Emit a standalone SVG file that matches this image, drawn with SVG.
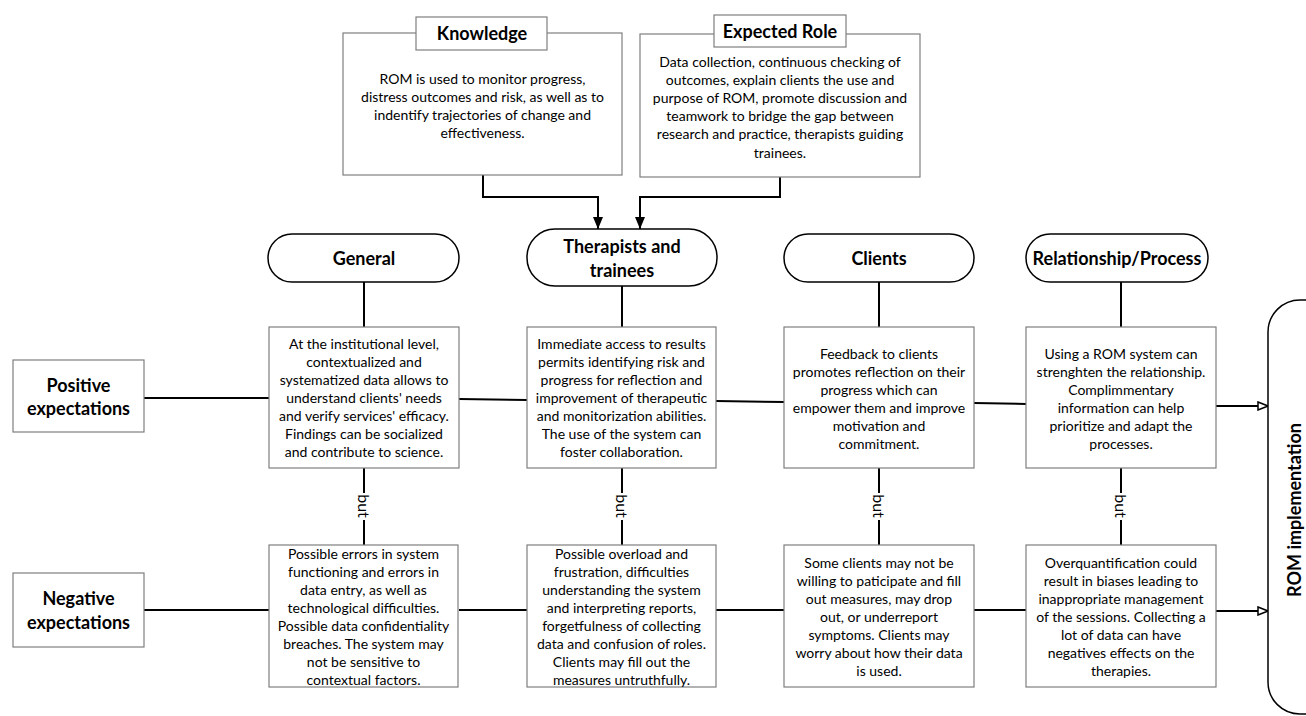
<svg xmlns="http://www.w3.org/2000/svg" width="1306" height="716" viewBox="0 0 1306 716">
<defs>
<style>
.box{fill:#fff;stroke:#7f7f7f;stroke-width:1.2}
.pill{fill:#fff;stroke:#000;stroke-width:1.5}
.t{font-family:Lato,"Liberation Sans",sans-serif;font-size:14px;fill:#000;text-anchor:middle;dominant-baseline:central}
.b{font-family:Lato,"Liberation Sans",sans-serif;font-size:16px;fill:#000;text-anchor:middle;dominant-baseline:central}
.h{font-family:Lato,"Liberation Sans",sans-serif;font-size:18px;font-weight:bold;fill:#000;text-anchor:middle;dominant-baseline:central}
.c{fill:none;stroke:#000;stroke-width:2}
</style>
<marker id="fa" viewBox="0 0 12 10" refX="12" refY="5" markerWidth="12" markerHeight="10" markerUnits="userSpaceOnUse" orient="auto"><path d="M0,0 L12,5 L0,10 Z" fill="#000"/></marker>
<marker id="oa" viewBox="0 0 12 10" refX="11" refY="5" markerWidth="12" markerHeight="10" markerUnits="userSpaceOnUse" orient="auto"><path d="M1,1 L11,5 L1,9 Z" fill="#fff" stroke="#000" stroke-width="1.5"/></marker>
</defs>
<rect width="1306" height="716" fill="#fff"/>

<g id="connectors">
<polyline class="c" points="483,175 483,197 598,197 598,229" marker-end="url(#fa)"/>
<polyline class="c" points="780,177 780,197 640,197 640,229" marker-end="url(#fa)"/>
<line class="c" x1="364" y1="282" x2="364" y2="327"/>
<line class="c" x1="622" y1="286" x2="622" y2="327"/>
<line class="c" x1="879" y1="282" x2="879" y2="327"/>
<line class="c" x1="1121" y1="282" x2="1121" y2="327"/>
<line class="c" x1="144" y1="398" x2="269" y2="398"/>
<line class="c" x1="459" y1="399" x2="527" y2="400"/>
<line class="c" x1="716" y1="401" x2="784" y2="402"/>
<line class="c" x1="974" y1="403" x2="1026" y2="404"/>
<line class="c" x1="1216" y1="406" x2="1268" y2="406" marker-end="url(#oa)"/>
<line class="c" x1="144" y1="610" x2="269" y2="610"/>
<line class="c" x1="459" y1="610" x2="527" y2="610"/>
<line class="c" x1="716" y1="610" x2="784" y2="610"/>
<line class="c" x1="974" y1="610" x2="1026" y2="610"/>
<line class="c" x1="1216" y1="611" x2="1268" y2="611" marker-end="url(#oa)"/>
<g id="but-links">
<line class="c" x1="364" y1="468" x2="364" y2="493"/><line class="c" x1="364" y1="520" x2="364" y2="545"/>
<text class="b" transform="translate(364,506) rotate(90)">but</text>
<line class="c" x1="622" y1="468" x2="622" y2="493"/><line class="c" x1="622" y1="520" x2="622" y2="545"/>
<text class="b" transform="translate(622,506) rotate(90)">but</text>
<line class="c" x1="879" y1="468" x2="879" y2="493"/><line class="c" x1="879" y1="520" x2="879" y2="545"/>
<text class="b" transform="translate(879,506) rotate(90)">but</text>
<line class="c" x1="1121" y1="468" x2="1121" y2="493"/><line class="c" x1="1121" y1="520" x2="1121" y2="545"/>
<text class="b" transform="translate(1121,506) rotate(90)">but</text>
</g>
</g>

<g id="knowledge">
<rect class="box" x="343" y="33" width="279" height="142"/>
<rect class="box" x="416" y="17" width="131" height="33"/>
<text class="h" x="482" y="33">Knowledge</text>
<text class="t" x="482.5" y="78">ROM is used to monitor progress,</text>
<text class="t" x="482.5" y="96">distress outcomes and risk, as well as to</text>
<text class="t" x="482.5" y="114">indentify trajectories of change and</text>
<text class="t" x="482.5" y="132">effectiveness.</text>
</g>

<g id="expected-role">
<rect class="box" x="640" y="34" width="280" height="143"/>
<rect class="box" x="714" y="15" width="132" height="32"/>
<text class="h" x="780" y="31">Expected Role</text>
<text class="t" x="780" y="61">Data collection, continuous checking of</text>
<text class="t" x="780" y="79">outcomes, explain clients the use and</text>
<text class="t" x="780" y="97">purpose of ROM, promote discussion and</text>
<text class="t" x="780" y="115">teamwork to bridge the gap between</text>
<text class="t" x="780" y="133">research and practice, therapists guiding</text>
<text class="t" x="780" y="152">trainees.</text>
</g>

<g id="general">
<rect class="pill" x="268" y="234" width="191" height="48" rx="24"/>
<text class="h" x="364" y="258">General</text>
</g>
<g id="therapists">
<rect class="pill" x="527" y="229" width="190" height="57" rx="28"/>
<text class="h" x="622" y="246">Therapists and</text>
<text class="h" x="622" y="270">trainees</text>
</g>
<g id="clients">
<rect class="pill" x="784" y="234" width="190" height="48" rx="24"/>
<text class="h" x="879" y="258">Clients</text>
</g>
<g id="relationship">
<rect class="pill" x="1026" y="234" width="182" height="48" rx="24"/>
<text class="h" x="1117" y="258">Relationship/Process</text>
</g>

<g id="positive">
<rect class="box" x="13" y="360" width="131" height="72"/>
<text class="h" x="78.5" y="385">Positive</text>
<text class="h" x="78.5" y="408">expectations</text>
</g>
<g id="negative">
<rect class="box" x="13" y="573" width="131" height="74"/>
<text class="h" x="78.5" y="598">Negative</text>
<text class="h" x="78.5" y="622">expectations</text>
</g>

<g id="general-positive">
<rect class="box" x="269" y="327" width="190" height="141"/>
<text class="t" x="364" y="343">At the institutional level,</text>
<text class="t" x="364" y="361">contextualized and</text>
<text class="t" x="364" y="379">systematized data allows to</text>
<text class="t" x="364" y="397">understand clients' needs</text>
<text class="t" x="364" y="415">and verify services' efficacy.</text>
<text class="t" x="364" y="433">Findings can be socialized</text>
<text class="t" x="364" y="451">and contribute to science.</text>
</g>
<g id="therapists-positive">
<rect class="box" x="527" y="327" width="189" height="141"/>
<text class="t" x="621.5" y="343">Immediate access to results</text>
<text class="t" x="621.5" y="361">permits identifying risk and</text>
<text class="t" x="621.5" y="379">progress for reflection and</text>
<text class="t" x="621.5" y="397">improvement of therapeutic</text>
<text class="t" x="621.5" y="415">and monitorization abilities.</text>
<text class="t" x="621.5" y="433">The use of the system can</text>
<text class="t" x="621.5" y="451">foster collaboration.</text>
</g>
<g id="clients-positive">
<rect class="box" x="784" y="327" width="190" height="141"/>
<text class="t" x="879" y="353">Feedback to clients</text>
<text class="t" x="879" y="371">promotes reflection on their</text>
<text class="t" x="879" y="389">progress which can</text>
<text class="t" x="879" y="407">empower them and improve</text>
<text class="t" x="879" y="425">motivation and</text>
<text class="t" x="879" y="443">commitment.</text>
</g>
<g id="relationship-positive">
<rect class="box" x="1026" y="327" width="190" height="141"/>
<text class="t" x="1121" y="353">Using a ROM system can</text>
<text class="t" x="1121" y="371">strenghten the relationship.</text>
<text class="t" x="1121" y="389">Complimmentary</text>
<text class="t" x="1121" y="407">information can help</text>
<text class="t" x="1121" y="425">prioritize and adapt the</text>
<text class="t" x="1121" y="443">processes.</text>
</g>

<g id="general-negative">
<rect class="box" x="269" y="545" width="189" height="142"/>
<text class="t" x="363.5" y="553">Possible errors in system</text>
<text class="t" x="363.5" y="571">functioning and errors in</text>
<text class="t" x="363.5" y="589">data entry, as well as</text>
<text class="t" x="363.5" y="607">technological difficulties.</text>
<text class="t" x="363.5" y="625">Possible data confidentiality</text>
<text class="t" x="363.5" y="643">breaches. The system may</text>
<text class="t" x="363.5" y="661">not be sensitive to</text>
<text class="t" x="363.5" y="679">contextual factors.</text>
</g>
<g id="therapists-negative">
<rect class="box" x="527" y="545" width="189" height="142"/>
<text class="t" x="621.5" y="553">Possible overload and</text>
<text class="t" x="621.5" y="571">frustration, difficulties</text>
<text class="t" x="621.5" y="589">understanding the system</text>
<text class="t" x="621.5" y="607">and interpreting reports,</text>
<text class="t" x="621.5" y="625">forgetfulness of collecting</text>
<text class="t" x="621.5" y="643">data and confusion of roles.</text>
<text class="t" x="621.5" y="661">Clients may fill out the</text>
<text class="t" x="621.5" y="679">measures untruthfully.</text>
</g>
<g id="clients-negative">
<rect class="box" x="784" y="545" width="190" height="142"/>
<text class="t" x="879" y="562">Some clients may not be</text>
<text class="t" x="879" y="580">willing to paticipate and fill</text>
<text class="t" x="879" y="598">out measures, may drop</text>
<text class="t" x="879" y="616">out, or underreport</text>
<text class="t" x="879" y="634">symptoms. Clients may</text>
<text class="t" x="879" y="652">worry about how their data</text>
<text class="t" x="879" y="670">is used.</text>
</g>
<g id="relationship-negative">
<rect class="box" x="1026" y="545" width="190" height="142"/>
<text class="t" x="1121" y="562">Overquantification could</text>
<text class="t" x="1121" y="580">result in biases leading to</text>
<text class="t" x="1121" y="598">inappropriate management</text>
<text class="t" x="1121" y="616">of the sessions. Collecting a</text>
<text class="t" x="1121" y="634">lot of data can have</text>
<text class="t" x="1121" y="652">negatives effects on the</text>
<text class="t" x="1121" y="670">therapies.</text>
</g>

<g id="rom-implementation">
<rect class="pill" x="1268" y="300" width="80" height="414" rx="32"/>
<text class="h" transform="translate(1294,510) rotate(-90)">ROM implementation</text>
</g>
</svg>
